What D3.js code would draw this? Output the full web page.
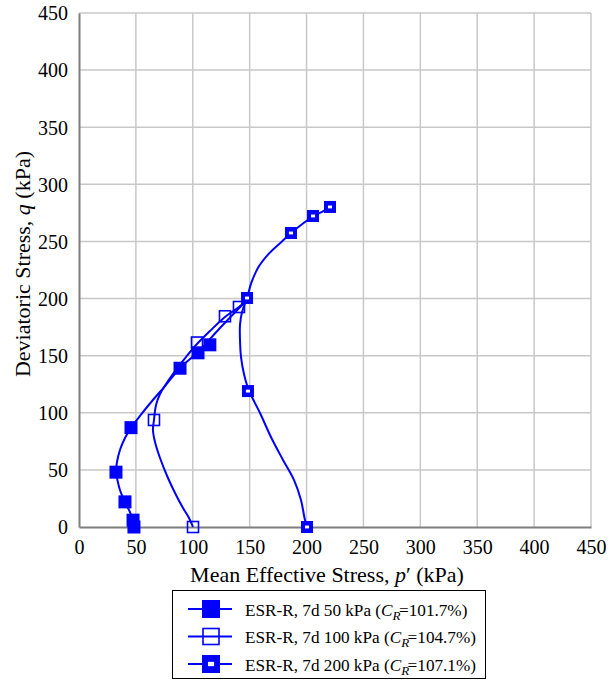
<!DOCTYPE html>
<html>
<head>
<meta charset="utf-8">
<script src="https://cdn.jsdelivr.net/npm/d3@7"></script>
<style>
  html, body { margin: 0; padding: 0; background: #fff; }
  svg { display: block; }
</style>
</head>
<body>
<svg id="chart" width="609" height="681"></svg>
<script>
// Stress paths (p', q) in kPa for the three consolidation pressures
const path50 = [
  [48.3, 0], [47.5, 6.1], [43.9, 15], [40.4, 21.9], [36.0, 32.4], [33.4, 42.9],
  [32.5, 48.2], [33.4, 56.9], [36.0, 67.4], [40.4, 77.9], [45.7, 86.7],
  [53.6, 97.2], [64.2, 110.3], [75.6, 123.4], [88.8, 139.2], [104.6, 153.2],
  [123.9, 174.2], [146.8, 197.9]
];
const marks50 = [
  [48.3, 0], [47.5, 6], [40.4, 22], [32.5, 48], [45.7, 87],
  [88.8, 139], [104.6, 152.5], [115, 159.5]
];

const path100 = [
  [100.2, 0], [96.7, 7.9], [91.4, 16.6], [85.3, 28], [78.2, 42.9], [71.2, 60.4],
  [66.8, 74.4], [65.0, 84.9], [65.9, 93.7], [67.7, 106.8], [71.2, 116.4],
  [76.5, 125.2], [84.4, 136.6], [94.0, 148.8], [103.7, 160.2], [115.1, 171.6],
  [128.3, 183.9], [140.6, 192.6], [147.7, 198.7]
];
const marks100 = [
  [100.2, 0], [65.9, 93.7], [103.7, 161.5], [128.3, 184.5], [140.6, 192.6]
];

const path200 = [
  [200.4, 0], [198.6, 6.1], [195.1, 23.6], [189.0, 41.1], [179.3, 58.7],
  [168.7, 78.8], [159.1, 99.8], [152.0, 113.8], [148.5, 121.7], [145.0, 134],
  [142.4, 148.8], [141.5, 163.7], [141.5, 176.9], [143.3, 188.2], [147.7, 200.5],
  [151.5, 214], [158.0, 228], [167.5, 240], [178.4, 250], [186.3, 257.4],
  [198.6, 267.0], [205.7, 272.3], [213.6, 275.8], [220.6, 280.2]
];
const marks200 = [
  [200.4, 0], [148.5, 119], [147.7, 200.5], [186.3, 257.4], [205.7, 272.3], [220.6, 280.2]
];

const xTicks = [0, 50, 100, 150, 200, 250, 300, 350, 400, 450];
const yTicks = [0, 50, 100, 150, 200, 250, 300, 350, 400, 450];

const legendLabels = [
  { text: "ESR-R, 7d 50 kPa (", cr: "101.7%)", kind: "filled" },
  { text: "ESR-R, 7d 100 kPa (", cr: "104.7%)", kind: "open" },
  { text: "ESR-R, 7d 200 kPa (", cr: "107.1%)", kind: "dotted" }
];

const SERIF = "'Liberation Serif', 'Times New Roman', Times, serif";
const BLUE = "#0000ff";
const svg = d3.select("#chart").attr("font-family", SERIF);
const plot = { left: 79, right: 591, top: 13, bottom: 527 };

const x = d3.scaleLinear().domain([0, 450]).range([plot.left, plot.right]);
const y = d3.scaleLinear().domain([0, 450]).range([plot.bottom, plot.top]);

// gridlines
const grid = svg.append("g");
grid.selectAll("line.gx").data(xTicks.filter(d => d > 0)).join("line")
  .attr("x1", d => x(d)).attr("x2", d => x(d))
  .attr("y1", plot.top).attr("y2", plot.bottom)
  .attr("stroke", "#c8c8c8").attr("stroke-width", 1.5);
grid.selectAll("line.gy").data(yTicks.filter(d => d > 0)).join("line")
  .attr("x1", plot.left).attr("x2", plot.right)
  .attr("y1", d => y(d)).attr("y2", d => y(d))
  .attr("stroke", "#c8c8c8").attr("stroke-width", 1.5);

// axes (no tick marks, labels only)
const xAxis = svg.append("g").attr("transform", `translate(0,${plot.bottom})`)
  .call(d3.axisBottom(x).tickValues(xTicks).tickSize(0).tickPadding(13));
const yAxis = svg.append("g").attr("transform", `translate(${plot.left},0)`)
  .call(d3.axisLeft(y).tickValues(yTicks).tickSize(0).tickPadding(11));
[xAxis, yAxis].forEach(a => {
  a.attr("font-family", SERIF).attr("font-size", 20);
  a.select(".domain").attr("stroke", "#7f7f7f").attr("stroke-width", 2);
  a.selectAll(".tick text").attr("fill", "#000");
});
xAxis.selectAll(".tick text").attr("dy", "0.71em");
yAxis.selectAll(".tick text").attr("dy", "0.34em");

// axis titles
const xt = svg.append("text").attr("x", 327).attr("y", 582)
  .attr("text-anchor", "middle").attr("font-size", 22);
xt.append("tspan").text("Mean Effective Stress, ");
xt.append("tspan").attr("font-style", "italic").text("p");
xt.append("tspan").text("\u2032 (kPa)");

const yt = svg.append("text")
  .attr("transform", "translate(30,264) rotate(-90)")
  .attr("text-anchor", "middle").attr("font-size", 22);
yt.append("tspan").text("Deviatoric Stress, ");
yt.append("tspan").attr("font-style", "italic").text("q");
yt.append("tspan").text(" (kPa)");

// stress path curves
const line = d3.line().x(d => x(d[0])).y(d => y(d[1])).curve(d3.curveCatmullRom.alpha(0.5));
const curves = svg.append("g");
[path50, path100, path200].forEach(p => {
  curves.append("path").attr("d", line(p))
    .attr("fill", "none").attr("stroke", BLUE).attr("stroke-width", 2);
});

// marker drawing
function marker(g, cx, cy, kind, s) {
  if (kind === "filled") {
    g.append("rect").attr("x", cx - s / 2).attr("y", cy - s / 2)
      .attr("width", s).attr("height", s).attr("fill", BLUE);
  } else if (kind === "open") {
    g.append("rect").attr("x", cx - s / 2 + 1).attr("y", cy - s / 2 + 1)
      .attr("width", s - 2).attr("height", s - 2)
      .attr("fill", "none").attr("stroke", BLUE).attr("stroke-width", 1.6);
  } else {
    g.append("rect").attr("x", cx - s / 2).attr("y", cy - s / 2)
      .attr("width", s).attr("height", s).attr("fill", BLUE);
    g.append("rect").attr("x", cx - s * 0.17).attr("y", cy - s * 0.12)
      .attr("width", s * 0.34).attr("height", s * 0.24).attr("fill", "#fff");
  }
}

const mk = svg.append("g");
marks50.forEach(d => marker(mk, x(d[0]), y(d[1]), "filled", 13));
marks100.forEach(d => marker(mk, x(d[0]), y(d[1]), "open", 13));
marks200.forEach(d => marker(mk, x(d[0]), y(d[1]), "dotted", 12));

// legend
const lg = svg.append("g");
lg.append("rect").attr("x", 172.5).attr("y", 590.5).attr("width", 313).attr("height", 88)
  .attr("fill", "#fff").attr("stroke", "#000").attr("stroke-width", 1);
legendLabels.forEach((l, i) => {
  const cy = 609 + i * 27.5;
  lg.append("line").attr("x1", 188).attr("x2", 232).attr("y1", cy).attr("y2", cy)
    .attr("stroke", BLUE).attr("stroke-width", 2);
  marker(lg, 211, cy, l.kind, 18);
  const t = lg.append("text").attr("x", 245).attr("y", cy + 6.5).attr("font-size", 17.2);
  t.append("tspan").text(l.text);
  t.append("tspan").attr("font-style", "italic").text("C");
  t.append("tspan").attr("font-style", "italic").attr("font-size", 13).attr("dy", 4).text("R");
  t.append("tspan").attr("dy", -4).attr("dx", -1.5).text("=" + l.cr);
});
</script>
</body>
</html>
